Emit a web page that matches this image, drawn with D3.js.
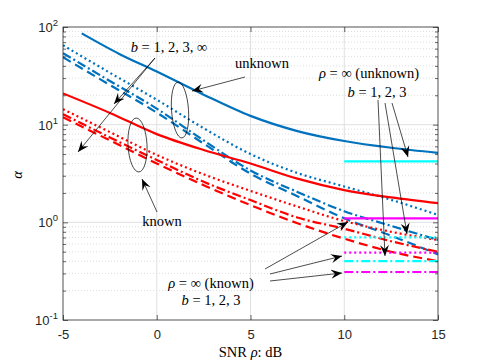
<!DOCTYPE html>
<html lang="en">
<head>
  <meta charset="UTF-8">
  <title>alpha vs SNR</title>
  <style>
    body { margin: 0; background: #fff; }
    .tick-label { font-family: "Liberation Sans", Arial, sans-serif; font-size: 13px; fill: #262626; }
    .tex { font-family: "Liberation Serif", "DejaVu Serif", serif; font-size: 14.5px; fill: #000; }
  </style>
</head>
<body>
  <svg id="chart" width="485" height="363"></svg>

  <script src="https://d3js.org/d3.v7.min.js"></script>
  <script>
    // ---- data ----
    const snrDb = [-5, -2.5, 0, 2.5, 5, 7.5, 10, 12.5, 15];
    const snrDbB1Unknown = [-4, -2, 0, 2.5, 5, 7.5, 10, 12.5, 15];

    const alphaUnknownB1   = [86, 53, 35, 20.3, 12.3, 8.6, 6.8, 5.8, 5.15];
    const alphaUnknownB2   = [65, 34, 18, 9.2, 5.0, 3.2, 2.33, 1.7, 1.19];
    const alphaUnknownB3   = [54, 28, 14.6, 6.9, 3.4, 2.05, 1.3, 0.92, 0.66];
    const alphaUnknownBInf = [49, 25.5, 13.3, 6.4, 3.15, 1.85, 1.1, 0.73, 0.47];

    const alphaKnownB1   = [20.9, 13.2, 8.0, 5.5, 4.0, 2.8, 2.14, 1.8, 1.57];
    const alphaKnownB2   = [14.4, 8.4, 4.9, 3.1, 2.1, 1.45, 1.03, 0.8, 0.66];
    const alphaKnownB3   = [12.8, 7.4, 4.35, 2.6, 1.69, 1.12, 0.86, 0.64, 0.50];
    const alphaKnownBInf = [11.9, 6.9, 4.0, 2.4, 1.5, 0.98, 0.68, 0.5, 0.40];

    // rho = infinity limits, drawn over 10..15 dB
    const limitSnr = [10, 15];
    const limitUnknown = [4.2, 0.70, 0.40];   // b = 1, 2, 3
    const limitKnown   = [1.10, 0.49, 0.31];  // b = 1, 2, 3

    const xTicks = [-5, 0, 5, 10, 15];
    const yTicks = [0.1, 1, 10, 100];

    // ---- layout ----
    const W = 485, H = 363;
    const margin = { left: 63, right: 47, top: 27, bottom: 43 };
    const x0 = margin.left, x1 = W - margin.right, y0 = margin.top, y1 = H - margin.bottom;

    const x = d3.scaleLinear().domain([-5, 15]).range([x0, x1]);
    const y = d3.scaleLog().domain([0.1, 100]).range([y1, y0]);

    const svg = d3.select("#chart");

    const blue = "#0072BD", red = "#FF0000", cyan = "#00FFFF", magenta = "#FF00FF";
    const dash = { solid: null, dot: "2,3", dashed: "9,5", dashdot: "9,3,2,3" };

    // minor horizontal grid (dotted)
    const minorVals = [];
    [-1, 0, 1].forEach(e => { for (let k = 2; k <= 9; k++) minorVals.push(k * Math.pow(10, e)); });

    svg.append("g").selectAll("line").data(minorVals).enter().append("line")
      .attr("x1", x0).attr("x2", x1)
      .attr("y1", d => y(d)).attr("y2", d => y(d))
      .attr("stroke", "#d4d4d4").attr("stroke-width", 0.8).attr("stroke-dasharray", "1,2");

    // major grid
    svg.append("g").selectAll("line").data([1, 10]).enter().append("line")
      .attr("x1", x0).attr("x2", x1)
      .attr("y1", d => y(d)).attr("y2", d => y(d))
      .attr("stroke", "#e0e0e0").attr("stroke-width", 1);
    svg.append("g").selectAll("line").data([0, 5, 10]).enter().append("line")
      .attr("y1", y0).attr("y2", y1)
      .attr("x1", d => x(d)).attr("x2", d => x(d))
      .attr("stroke", "#e0e0e0").attr("stroke-width", 1);

    // ---- curves ----
    svg.append("clipPath").attr("id", "clip")
      .append("rect").attr("x", x0).attr("y", y0).attr("width", x1 - x0).attr("height", y1 - y0);

    const line = d3.line().x(d => x(d[0])).y(d => y(d[1])).curve(d3.curveMonotoneX);
    const plot = svg.append("g").attr("clip-path", "url(#clip)");

    function curve(xs, ys, color, style) {
      plot.append("path")
        .datum(xs.map((v, i) => [v, ys[i]]))
        .attr("d", line)
        .attr("fill", "none")
        .attr("stroke", color)
        .attr("stroke-width", 2.2)
        .attr("stroke-dasharray", dash[style]);
    }

    curve(snrDbB1Unknown, alphaUnknownB1, blue, "solid");
    curve(snrDb, alphaUnknownB2, blue, "dot");
    curve(snrDb, alphaUnknownB3, blue, "dashdot");
    curve(snrDb, alphaUnknownBInf, blue, "dashed");

    curve(snrDb, alphaKnownB1, red, "solid");
    curve(snrDb, alphaKnownB2, red, "dot");
    curve(snrDb, alphaKnownB3, red, "dashdot");
    curve(snrDb, alphaKnownBInf, red, "dashed");

    const limStyles = ["solid", "dot", "dashdot"];
    limitUnknown.forEach((v, i) => curve(limitSnr, [v, v], cyan, limStyles[i]));
    limitKnown.forEach((v, i) => curve(limitSnr, [v, v], magenta, limStyles[i]));

    // ---- axes ----
    const axisColor = "#262626";
    function styleAxis(g) {
      g.select(".domain").remove();
      g.selectAll(".tick line").attr("stroke", axisColor).attr("stroke-width", 0.7);
    }

    svg.append("g").attr("transform", `translate(0,${y1})`)
      .call(d3.axisBottom(x).tickValues(xTicks).tickSize(-5).tickPadding(10).tickFormat(d => String(d)))
      .call(styleAxis)
      .call(g => g.selectAll("text").attr("class", "tick-label").attr("font-size", null).attr("font-family", null));
    svg.append("g").attr("transform", `translate(0,${y0})`)
      .call(d3.axisTop(x).tickValues(xTicks).tickSize(-5).tickFormat(""))
      .call(styleAxis);

    svg.append("g").attr("transform", `translate(${x0},0)`)
      .call(d3.axisLeft(y).tickValues(yTicks).tickSize(-5).tickFormat(""))
      .call(styleAxis);
    svg.append("g").attr("transform", `translate(${x1},0)`)
      .call(d3.axisRight(y).tickValues(yTicks).tickSize(-5).tickFormat(""))
      .call(styleAxis);
    svg.append("g").attr("transform", `translate(${x0},0)`)
      .call(d3.axisLeft(y).tickValues(minorVals).tickSize(-3).tickFormat(""))
      .call(styleAxis);
    svg.append("g").attr("transform", `translate(${x1},0)`)
      .call(d3.axisRight(y).tickValues(minorVals).tickSize(-3).tickFormat(""))
      .call(styleAxis);

    // box
    svg.append("rect").attr("x", x0).attr("y", y0).attr("width", x1 - x0).attr("height", y1 - y0)
      .attr("fill", "none").attr("stroke", axisColor).attr("stroke-width", 0.8);

    // y tick labels 10^n
    const yl = svg.append("g").selectAll("text").data(yTicks).enter().append("text")
      .attr("class", "tick-label")
      .attr("x", x0 - 5).attr("y", d => y(d) + 5)
      .attr("text-anchor", "end");
    yl.append("tspan").text("10");
    yl.append("tspan").attr("dy", -6).attr("font-size", 9.5).text(d => String(Math.round(Math.log10(d))));

    // axis titles
    const xt = svg.append("text").attr("class", "tex").attr("x", (x0 + x1) / 2).attr("y", 357)
      .attr("text-anchor", "middle");
    xt.append("tspan").text("SNR ");
    xt.append("tspan").attr("font-style", "italic").text("ρ");
    xt.append("tspan").text(": dB");

    svg.append("text").attr("class", "tex").attr("font-style", "italic")
      .attr("transform", "translate(22,175) rotate(-90)").attr("text-anchor", "middle").text("α");

    // ---- annotations ----
    const defs = svg.append("defs");
    defs.append("marker").attr("id", "head")
      .attr("viewBox", "-11 -5 12 10").attr("refX", 0).attr("refY", 0)
      .attr("markerWidth", 12).attr("markerHeight", 10)
      .attr("markerUnits", "userSpaceOnUse").attr("orient", "auto")
      .append("path").attr("d", "M0,0 L-11,-4.5 L-7,0 L-11,4.5 Z").attr("fill", "#000");

    function arrow(ax, ay, bx, by) {
      svg.append("line").attr("x1", ax).attr("y1", ay).attr("x2", bx).attr("y2", by)
        .attr("stroke", "#000").attr("stroke-width", 0.7).attr("marker-end", "url(#head)");
    }

    function label(tx, ty, parts) {
      const t = svg.append("text").attr("class", "tex").attr("x", tx).attr("y", ty).attr("text-anchor", "middle");
      parts.forEach(p => t.append("tspan").attr("font-style", p[1] ? "italic" : null).text(p[0]));
    }

    label(169, 52, [["b", 1], [" = 1, 2, 3, ∞", 0]]);
    arrow(155, 58, 114, 104);
    arrow(155, 58, 78, 152);

    svg.append("ellipse").attr("cx", 180).attr("cy", 110).attr("rx", 8.5).attr("ry", 28)
      .attr("transform", "rotate(-4,180,110)")
      .attr("fill", "none").attr("stroke", "#000").attr("stroke-width", 0.7);
    svg.append("ellipse").attr("cx", 137.5).attr("cy", 145).attr("rx", 9.5).attr("ry", 27)
      .attr("transform", "rotate(-3,137.5,145)")
      .attr("fill", "none").attr("stroke", "#000").attr("stroke-width", 0.7);

    label(262, 68, [["unknown", 0]]);
    arrow(245, 77, 192, 91);

    label(162, 226, [["known", 0]]);
    arrow(157, 212, 142, 179);

    label(369, 78, [["ρ", 1], [" = ∞ (unknown)", 0]]);
    label(377, 97, [["b", 1], [" = 1, 2, 3", 0]]);
    arrow(378, 100, 385, 256);
    arrow(385, 103, 407, 234);
    arrow(392, 103, 408, 157);

    label(211, 288, [["ρ", 1], [" = ∞ (known)", 0]]);
    label(211, 305, [["b", 1], [" = 1, 2, 3", 0]]);
    arrow(265, 269, 348, 222);
    arrow(270, 274, 342, 256);
    arrow(270, 281, 342, 273);
  </script>
</body>
</html>
